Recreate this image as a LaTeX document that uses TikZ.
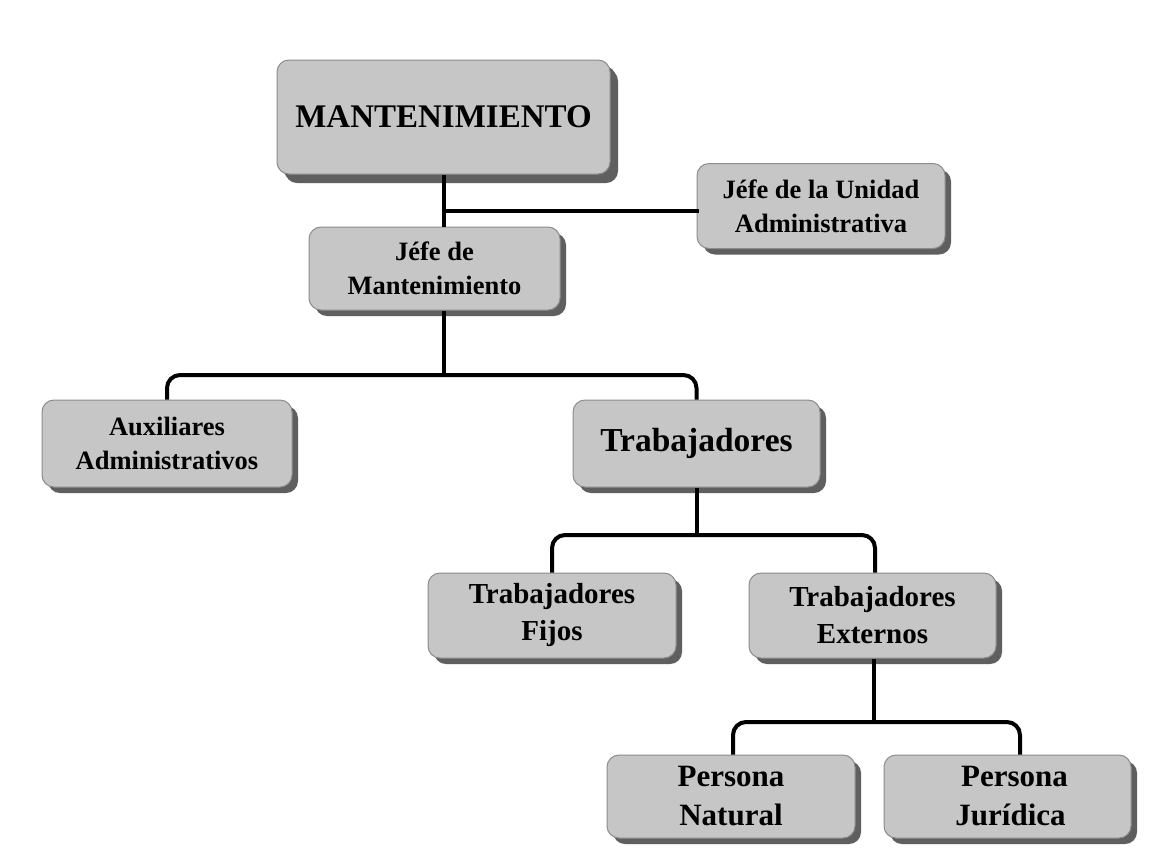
\documentclass[tikz,border=0pt]{standalone}
\usepackage{fontspec}
\setmainfont{Liberation Serif}
\usetikzlibrary{shadows,calc}
\definecolor{boxfill}{RGB}{198,198,198}
\definecolor{boxline}{RGB}{140,140,140}
\definecolor{shadowc}{RGB}{95,95,95}
\tikzset{
  orgbox/.style={draw=boxline, line width=1pt, fill=boxfill, rounded corners=12pt,
    inner sep=0pt, align=center, text=black,
    minimum width=248pt, minimum height=85pt,
    drop shadow={shadow xshift=6pt, shadow yshift=-6pt, fill=shadowc, opacity=1}},
  bigshadow/.style={drop shadow={shadow xshift=8pt, shadow yshift=-9pt, fill=shadowc, opacity=1}},
  conn/.style={line width=4pt, black, rounded corners=13pt},
  fsmall/.style={font=\fontsize{26.5}{34}\selectfont\bfseries},
  fmid/.style={font=\fontsize{29}{37}\selectfont\bfseries},
  fpers/.style={font=\fontsize{31}{39}\selectfont\bfseries},
  fbig/.style={font=\fontsize{33.5}{40}\selectfont\bfseries},
}
\begin{document}
\begin{tikzpicture}[x=1pt,y=-1pt]
\useasboundingbox (0,0) rectangle (1169,863);
\fill[white] (0,0) rectangle (1169,863);
% boxes
\node[orgbox, bigshadow, fbig, font=\fontsize{33}{40}\selectfont\bfseries, minimum width=333pt, minimum height=114pt] (mant) at (443.5,117) {MANTENIMIENTO};
\node[orgbox, fsmall] (uni) at (821,206) {J\'efe de la Unidad\\Administrativa};
\node[orgbox, fsmall, minimum width=251pt, minimum height=83pt] (jm) at (434.5,268.5) {J\'efe de\\Mantenimiento};
\node[orgbox, fsmall, minimum width=250pt, minimum height=87pt] (aux) at (167,443.5) {Auxiliares\\Administrativos};
\node[orgbox, fbig, minimum width=247pt, minimum height=87pt] (tra) at (696.5,443.5) {Trabajadores};
\node[orgbox, fmid] (fij) at (552,615.5) {Trabajadores\\Fijos};
\node[orgbox, fmid, minimum width=247pt] (ext) at (872.5,615.5) {Trabajadores\\Externos};
\node[orgbox, fpers, minimum height=83pt] (nat) at (731,796.5) {Persona\\Natural};
\node[orgbox, fpers, minimum width=247pt, minimum height=83pt] (jur) at (1007.5,796.5) {\hspace*{14pt}Persona\\\hspace*{6pt}Jur\'idica};
% bus coordinates
\coordinate (b1) at (0,211);
\coordinate (b2) at (0,375);
\coordinate (b3) at (0,535);
\coordinate (b4) at (0,722);
\coordinate (jurtop) at ($(jur.north)+(12.5,0)$);
\coordinate (nattop) at ($(nat.north)+(2,0)$);
% connectors
\draw[conn] (mant.south) -- (mant.south |- jm.north);
\draw[conn, line cap=rect, rounded corners=0pt] (mant.south |- b1) -- (uni.west |- b1);
\draw[conn] (mant.south |- jm.south) -- (mant.south |- b2);
\draw[conn] (aux.north) |- (tra.north |- b2) -- (tra.north);
\draw[conn] (tra.south) -- (tra.south |- b3);
\draw[conn] (fij.north) |- ($(ext.north |- b3)+(2.5,0)$) -- ($(ext.north)+(2.5,0)$);
\draw[conn] ($(ext.south)+(1.5,0)$) -- ($(ext.south |- b4)+(1.5,0)$);
\draw[conn] (nattop) |- (jurtop |- b4) -- (jurtop);
\end{tikzpicture}
\end{document}
